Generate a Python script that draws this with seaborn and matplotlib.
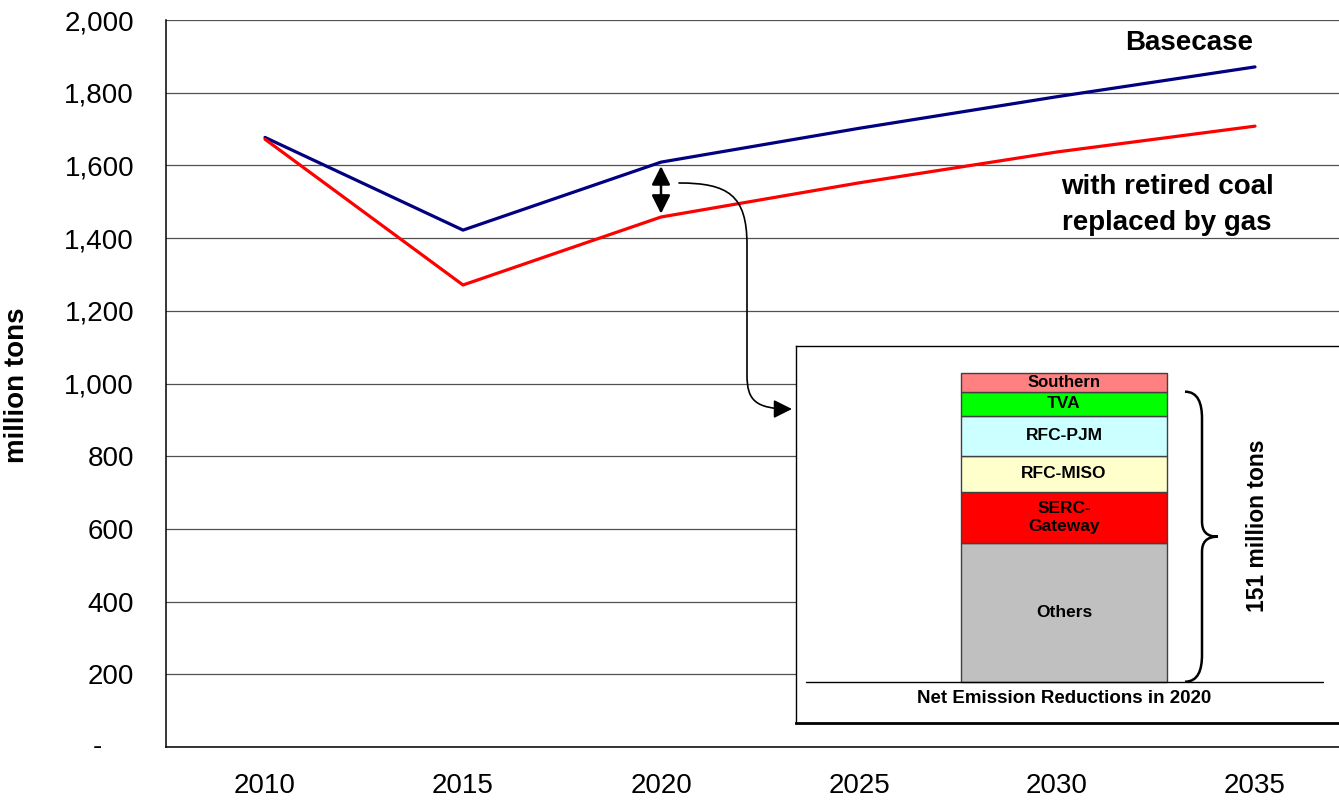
import pandas as pd
import seaborn as sns
import matplotlib.pyplot as plt
from matplotlib.patches import FancyArrowPatch, PathPatch
from matplotlib.path import Path
from matplotlib.ticker import FuncFormatter, MultipleLocator, FixedLocator

sns.set_style('white')
plt.rcParams['font.family'] = ['Liberation Sans', 'DejaVu Sans']
plt.rcParams['text.color'] = 'black'
plt.rcParams['axes.labelcolor'] = 'black'
plt.rcParams['xtick.color'] = 'black'
plt.rcParams['ytick.color'] = 'black'

# data (million tons)
years = ['2010', '2015', '2020', '2025', '2030', '2035']
basecase = [1677, 1422, 1609, 1702, 1789, 1871]
retired_gas = [1672, 1271, 1458, 1552, 1637, 1708]

# 2020 net emission reductions by region (million tons), bottom to top
regions = ['Others', 'SERC-\nGateway', 'RFC-MISO', 'RFC-PJM', 'TVA', 'Southern']
reductions = [72, 27, 18.5, 21, 12.5, 9.5]
region_colors = ['#C0C0C0', '#FF0000', '#FFFFCC', '#CCFFFF', '#00FF00', '#FF8080']
total_label = '151 million tons'

W, H = 1339, 801
fig = plt.figure(figsize=(W / 100, H / 100), dpi=100)
ax = fig.add_axes([166 / W, (H - 747) / H, 1188 / W, 727 / H])

df = pd.DataFrame({
    'pos': list(range(len(years))) * 2,
    'value': basecase + retired_gas,
    'series': ['Basecase'] * len(years) + ['Retired'] * len(years),
})
sns.lineplot(data=df, x='pos', y='value', hue='series',
             palette={'Basecase': '#000080', 'Retired': '#FF0000'},
             linewidth=2.3, legend=False, ax=ax, zorder=3)

ax.set_xlim(-0.5, len(years) - 0.5)
ax.set_ylim(0, 2000)
ax.xaxis.set_major_locator(FixedLocator(range(len(years))))
ax.set_xticklabels(years)
ax.xaxis.set_minor_locator(FixedLocator([i - 0.5 for i in range(len(years) + 1)]))
ax.tick_params(axis='x', which='major', length=0, pad=19, labelsize=20)
ax.tick_params(axis='x', which='minor', length=6, width=1, color='black', direction='out')
ax.yaxis.set_major_locator(MultipleLocator(200))
ax.yaxis.set_major_formatter(FuncFormatter(lambda v, p: '' if v == 0 else f'{int(v):,}'))
ax.tick_params(axis='y', length=7, width=1, color='black', direction='out', pad=16, labelsize=20)
ax.text(-0.0577, 0, '-', transform=ax.get_yaxis_transform(), ha='center', va='center', fontsize=20)

ax.yaxis.grid(True, color='#505050', lw=0.9)
ax.set_axisbelow(True)
for s in ['top', 'right']:
    ax.spines[s].set_visible(False)
for s in ['left', 'bottom']:
    ax.spines[s].set_color('black')
    ax.spines[s].set_linewidth(1.1)

ax.set_xlabel('')
ax.set_ylabel('million tons', fontsize=20, fontweight='bold')
ax.yaxis.set_label_coords(-0.1145, 0.498)

# series labels
ax.text(4.667, 1937, 'Basecase', ha='center', va='center', fontsize=20, fontweight='bold')
ax.text(4.556, 1541, 'with retired coal', ha='center', va='center', fontsize=20, fontweight='bold')
ax.text(4.556, 1442, 'replaced by gas', ha='center', va='center', fontsize=20, fontweight='bold')

# double arrow showing the gap in 2020
ax.annotate('', xy=(2, 1467), xytext=(2, 1598),
            arrowprops=dict(arrowstyle='<|-|>,head_length=0.8,head_width=0.4',
                            mutation_scale=14, lw=1.8, color='black',
                            shrinkA=0, shrinkB=0))


def px(x, y):
    # pixel position -> main axes data coords
    return ((x - 166) / 198 - 0.5, (747 - y) / 0.3635)


verts = [px(679, 183), px(728, 183), px(747, 195), px(747, 245),
         px(747, 375), px(747, 400), px(755, 409), px(792, 409)]
codes = [Path.MOVETO, Path.CURVE4, Path.CURVE4, Path.CURVE4,
         Path.LINETO, Path.CURVE4, Path.CURVE4, Path.CURVE4]
conn = FancyArrowPatch(path=Path(verts, codes),
                       arrowstyle='-|>,head_length=0.8,head_width=0.4',
                       mutation_scale=14, lw=1.2, color='black', zorder=4)
ax.add_patch(conn)

# inset box with stacked bar
ppu = 290 / 151
ax2 = fig.add_axes([796 / W, (H - 723) / H, 560 / W, 377 / H])
ax2.set_facecolor('white')
ax2.set_xlim(0, 560)
ax2.set_ylim(-(723 - 681.7) / ppu, (681.7 - 346) / ppu)
ax2.set_xticks([])
ax2.set_yticks([])
for s in ax2.spines.values():
    s.set_color('black')
    s.set_linewidth(1)
ax2.spines['bottom'].set_linewidth(2)

bottom = 0
for name, val, col in zip(regions, reductions, region_colors):
    ax2.bar(268, val, width=206, bottom=bottom, color=col, edgecolor='#404040', lw=1)
    fs = 12 if name == 'Southern' else 12.5
    ax2.text(268, bottom + val / 2, name, ha='center', va='center',
             fontsize=fs, fontweight='bold', linespacing=1.25)
    bottom += val

ax2.plot([10, 527], [0, 0], color='black', lw=1)
ax2.text(268, -9, 'Net Emission Reductions in 2020', ha='center', va='center',
         fontsize=13.5, fontweight='bold')

# curly brace for the total
top = sum(reductions[:5])
mid = top / 2
bverts = [(389, top), (402, top), (406, top - 6), (406, top - 14),
          (406, mid + 8),
          (406, mid + 3), (410, mid), (422, mid),
          (410, mid), (406, mid - 3), (406, mid - 8),
          (406, 14),
          (406, 6), (402, 0), (389, 0)]
bcodes = [Path.MOVETO, Path.CURVE4, Path.CURVE4, Path.CURVE4,
          Path.LINETO,
          Path.CURVE4, Path.CURVE4, Path.CURVE4,
          Path.CURVE4, Path.CURVE4, Path.CURVE4,
          Path.LINETO,
          Path.CURVE4, Path.CURVE4, Path.CURVE4]
ax2.add_patch(PathPatch(Path(bverts, bcodes), fill=False, lw=1.8, color='black'))
ax2.text(461, 81, total_label, rotation=90, ha='center', va='center',
         fontsize=16.5, fontweight='bold')

fig.savefig('out.png', dpi=100)
